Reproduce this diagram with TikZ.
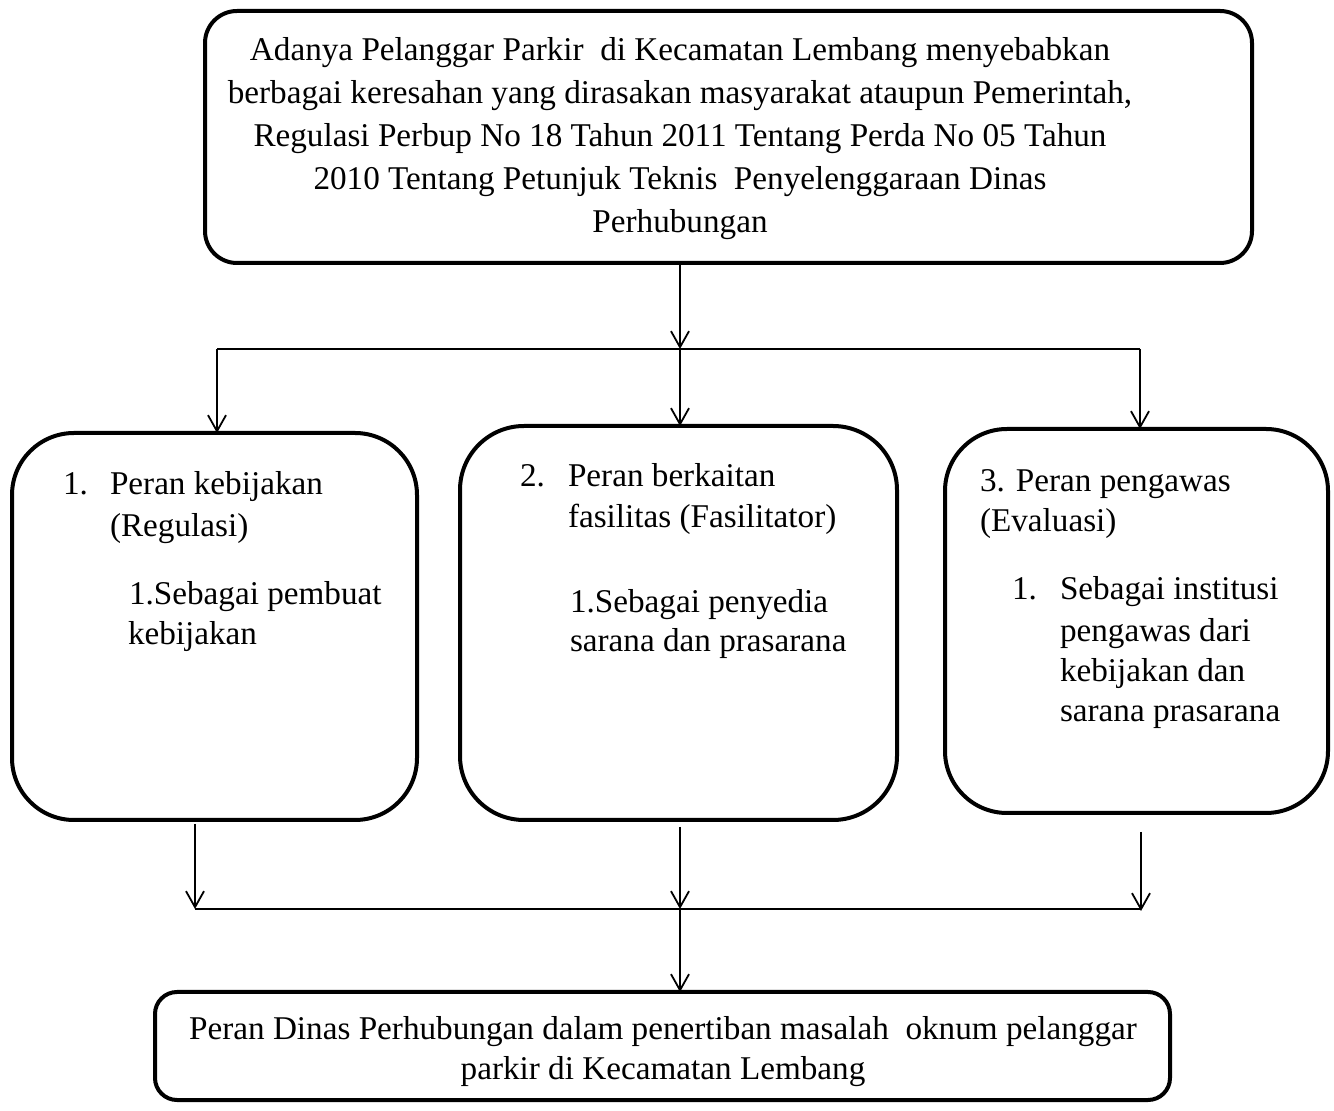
\documentclass[tikz,border=0pt]{standalone}
\usepackage{fontspec}
\setmainfont{Liberation Serif}
\usetikzlibrary{arrows.meta}
\begin{document}
\begin{tikzpicture}[x=0.5pt,y=-0.5pt,
  box/.style={draw=black, line width=2pt, fill=none, inner sep=0pt, outer sep=0pt},
  conn/.style={line width=0.9pt},
  arr/.style={conn, -{Straight Barb[length=8pt,width=9pt,line width=0.9pt]}},
  txt/.style={inner sep=0pt, outer sep=0pt, font=\fontsize{16.6}{20}\selectfont}]
\useasboundingbox (0,0) rectangle (1334,1111);

% boxes
\node[box, rounded corners=16pt, minimum width=523.5pt, minimum height=126pt] (top) at (728.5,137) {};
\node[box, rounded corners=31pt, minimum width=202.5pt, minimum height=193.5pt] (b1) at (214.5,626.5) {};
\node[box, rounded corners=32pt, minimum width=218.5pt, minimum height=197pt] (b2) at (678.5,623) {};
\node[box, rounded corners=31pt, minimum width=191.5pt, minimum height=192pt] (b3) at (1136.5,621) {};
\node[box, rounded corners=11pt, minimum width=507.5pt, minimum height=54pt] (bot) at (662.5,1046) {};

% top text
\node[txt, anchor=base] (t1) at (680,61) {Adanya Pelanggar Parkir\ \ di Kecamatan Lembang menyebabkan};
\node[txt, anchor=base] (t2) at (680,104) {berbagai keresahan yang dirasakan masyarakat ataupun Pemerintah,};
\node[txt, anchor=base] (t3) at (680,147) {Regulasi Perbup No 18 Tahun 2011 Tentang Perda No 05 Tahun};
\node[txt, anchor=base] (t4) at (680,190) {2010 Tentang Petunjuk Teknis\ \ Penyelenggaraan Dinas};
\node[txt, anchor=base] (t5) at (680,233) {Perhubungan};

% box 1 text
\node[txt, anchor=base west] (a0) at (63,495) {1.};
\node[txt, anchor=base west] (a1) at (110,495) {Peran kebijakan};
\node[txt, anchor=base west] (a2) at (110,537) {(Regulasi)};
\node[txt, anchor=base west] (a3) at (129,605) {1.Sebagai pembuat};
\node[txt, anchor=base west] (a4) at (128,645) {kebijakan};

% box 2 text
\node[txt, anchor=base west] (c0) at (520,487) {2.};
\node[txt, anchor=base west] (c1) at (568,487) {Peran berkaitan};
\node[txt, anchor=base west] (c2) at (568,528) {fasilitas (Fasilitator)};
\node[txt, anchor=base west] (c3) at (570,613) {1.Sebagai penyedia};
\node[txt, anchor=base west] (c4) at (570,652) {sarana dan prasarana};

% box 3 text
\node[txt, anchor=base west] (e1) at (980,492) {3. Peran pengawas};
\node[txt, anchor=base west] (e2) at (980,532) {(Evaluasi)};
\node[txt, anchor=base west] (e0) at (1012,600) {1.};
\node[txt, anchor=base west] (e3) at (1060,600) {Sebagai institusi};
\node[txt, anchor=base west] (e4) at (1060,642) {pengawas dari};
\node[txt, anchor=base west] (e5) at (1060,682) {kebijakan dan};
\node[txt, anchor=base west] (e6) at (1060,722) {sarana prasarana};

% bottom text
\node[txt, anchor=base] (d1) at (663,1039) {Peran Dinas Perhubungan dalam penertiban masalah\ \ oknum pelanggar};
\node[txt, anchor=base] (d2) at (663,1079) {parkir di Kecamatan Lembang};

% upper connectors
\coordinate (jl) at (217,349);
\coordinate (jt) at (680,349);
\coordinate (jr) at (1140,349);
\draw[arr] (top.south -| jt) -- (jt);
\draw[conn] (jl) -- (jr);
\draw[arr] (jl) -- (jl |- b1.north);
\draw[arr] (jt) -- (jt |- b2.north);
\draw[arr] (jr) -- (jr |- b3.north);

% lower connectors
\coordinate (s1) at (195,824);
\coordinate (s2) at (680,827);
\coordinate (s3) at (1141,832);
\coordinate (m1) at (195,909);
\coordinate (m2) at (680,909);
\coordinate (m3) at (1141,911);
\draw[arr] (s1) -- (m1);
\draw[arr] (s2) -- (m2);
\draw[arr] (s3) -- (m3);
\draw[conn] (m1) -- (m3 |- m1);
\draw[arr] (m2) -- (m2 |- bot.north);
\end{tikzpicture}
\end{document}
